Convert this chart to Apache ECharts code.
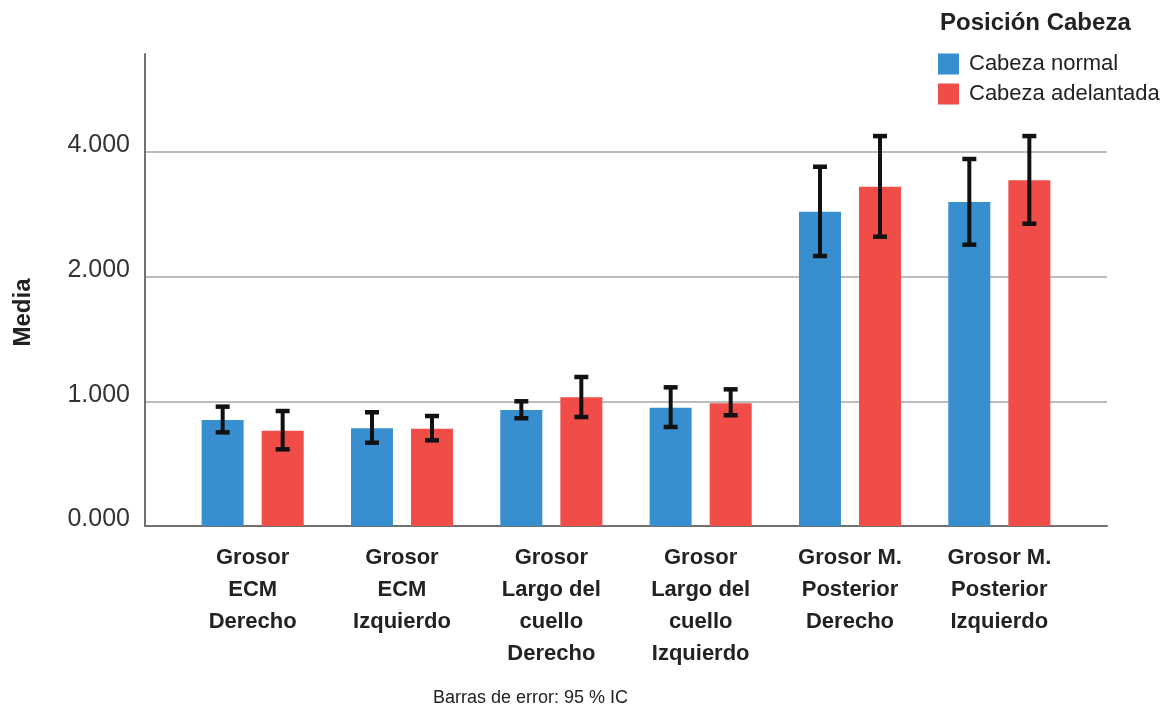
<!DOCTYPE html>
<html>
<head>
<meta charset="utf-8">
<script src="https://cdn.jsdelivr.net/npm/echarts@6/dist/echarts.min.js"></script>
<style>
html,body{margin:0;padding:0;background:#fff;}
#chart{width:1171px;height:711px;}
</style>
</head>
<body>
<div id="chart"></div>
<script>
// ---- data (axis units as drawn; tick labels as printed) ----
const categories = [
  'Grosor\nECM\nDerecho',
  'Grosor\nECM\nIzquierdo',
  'Grosor\nLargo del\ncuello\nDerecho',
  'Grosor\nLargo del\ncuello\nIzquierdo',
  'Grosor M.\nPosterior\nDerecho',
  'Grosor M.\nPosterior\nIzquierdo'
];
const seriesNames = ['Cabeza normal', 'Cabeza adelantada'];
const normalMean = [0.850, 0.783, 0.930, 0.949, 2.520, 2.598];
const normalLow  = [0.751, 0.668, 0.864, 0.794, 2.165, 2.256];
const normalHigh = [0.957, 0.912, 1.000, 1.112, 2.881, 2.943];
const adelMean   = [0.764, 0.780, 1.032, 0.984, 2.721, 2.772];
const adelLow    = [0.615, 0.687, 0.874, 0.888, 2.320, 2.424];
const adelHigh   = [0.922, 0.882, 1.195, 1.096, 3.127, 3.127];
const yTickLabels = ['0.000', '1.000', '2.000', '4.000'];
const yMax = 3.785;

const FN = "'Liberation Sans', Arial, sans-serif";
const BLUE = '#378fd0', RED = '#f04d48';
const errData = (lo, hi) => lo.map((v, i) => [i, v, hi[i]]);

function errRender(offset) {
  return function (params, api) {
    const i = api.value(0);
    const x = api.coord([i, 0])[0] + offset;
    const yl = api.coord([i, api.value(1)])[1];
    const yh = api.coord([i, api.value(2)])[1];
    const st = {stroke: '#111', lineWidth: 4};
    const cap = {stroke: '#111', lineWidth: 4.5};
    return {
      type: 'group',
      children: [
        {type: 'line', shape: {x1: x, y1: yh, x2: x, y2: yl}, style: st},
        {type: 'line', shape: {x1: x - 7, y1: yh, x2: x + 7, y2: yh}, style: cap},
        {type: 'line', shape: {x1: x - 7, y1: yl, x2: x + 7, y2: yl}, style: cap}
      ]
    };
  };
}

const chart = echarts.init(document.getElementById('chart'), null, {renderer: 'canvas'});
chart.setOption({
  backgroundColor: '#fff',
  animation: false,
  grid: [
    {left: 145, right: 64, top: 54, bottom: 185},
    {left: 178, right: 97, top: 54, bottom: 185}
  ],
  xAxis: [
    {gridIndex: 0, type: 'value', min: 0, max: 1,
     axisLine: {show: true, onZero: false, lineStyle: {color: '#707070', width: 2}},
     axisTick: {show: false}, axisLabel: {show: false}, splitLine: {show: false}},
    {gridIndex: 1, type: 'category', data: categories,
     axisLine: {show: false}, axisTick: {show: false},
     axisLabel: {interval: 0, margin: 16, color: '#222', fontFamily: FN, fontWeight: 'bold',
                 fontSize: 22, lineHeight: 32, verticalAlign: 'top'}}
  ],
  yAxis: [
    {gridIndex: 0, type: 'value', min: 0, max: yMax, interval: 1,
     axisLine: {show: true, lineStyle: {color: '#707070', width: 2}},
     axisTick: {show: false},
     splitLine: {show: true, showMaxLine: false, showMinLine: false,
                 lineStyle: {color: '#bdbdbd', width: 2}},
     axisLabel: {margin: 15, color: '#333', fontFamily: FN, fontSize: 25,
                 verticalAlign: 'bottom', lineHeight: 13,
                 formatter: v => (Number.isInteger(v) && yTickLabels[v] !== undefined) ? yTickLabels[v] : ''}},
    {gridIndex: 1, type: 'value', min: 0, max: yMax, interval: 1, show: false,
     splitLine: {show: false}}
  ],
  legend: {
    orient: 'vertical', left: 938, top: 53, padding: 0, itemWidth: 21, itemHeight: 21, itemGap: 8,
    icon: 'rect', data: seriesNames,
    textStyle: {color: '#222', fontFamily: FN, fontSize: 22, lineHeight: 21, padding: [0, 0, 0, 5]}
  },
  graphic: [
    {type: 'text', x: 940, y: 23, style: {text: 'Posición Cabeza', font: 'bold 24px ' + FN,
      fill: '#222', textAlign: 'left', textVerticalAlign: 'middle', align: 'left', verticalAlign: 'middle'}},
    {type: 'text', x: 530.5, y: 698, style: {text: 'Barras de error: 95 % IC', font: '18px ' + FN,
      fill: '#222', textAlign: 'center', textVerticalAlign: 'middle', align: 'center', verticalAlign: 'middle'}},
    {type: 'text', x: 23, y: 312.5, rotation: Math.PI / 2, style: {text: 'Media', font: 'bold 24px ' + FN,
      fill: '#222', textAlign: 'center', textVerticalAlign: 'middle', align: 'center', verticalAlign: 'middle'}}
  ],
  series: [
    {name: seriesNames[0], type: 'bar', xAxisIndex: 1, yAxisIndex: 1, data: normalMean,
     barWidth: 42, barGap: '43%', itemStyle: {color: BLUE}},
    {name: seriesNames[1], type: 'bar', xAxisIndex: 1, yAxisIndex: 1, data: adelMean,
     barWidth: 42, barGap: '43%', itemStyle: {color: RED}},
    {type: 'custom', xAxisIndex: 1, yAxisIndex: 1, z: 5, renderItem: errRender(-30),
     encode: {x: 0, y: [1, 2]}, data: errData(normalLow, normalHigh), silent: true},
    {type: 'custom', xAxisIndex: 1, yAxisIndex: 1, z: 5, renderItem: errRender(30),
     encode: {x: 0, y: [1, 2]}, data: errData(adelLow, adelHigh), silent: true}
  ]
});
</script>
</body>
</html>
